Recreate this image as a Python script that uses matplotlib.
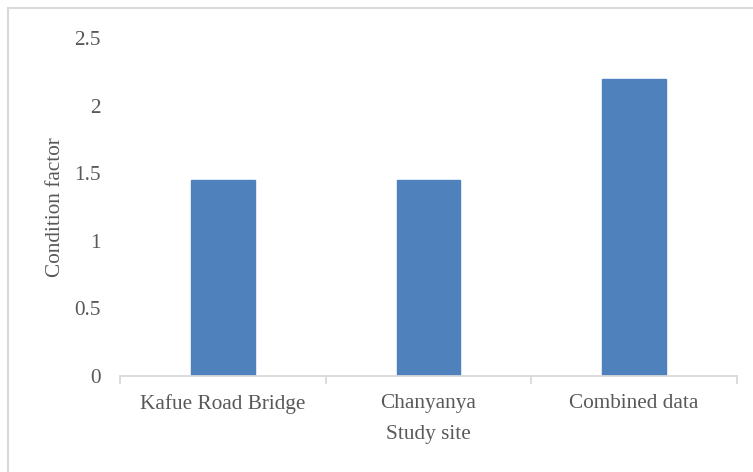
import matplotlib
matplotlib.use("Agg")
import matplotlib.pyplot as plt
from matplotlib.patches import Rectangle

categories = ["Kafue Road Bridge", "Chanyanya", "Combined data"]
values = [1.45, 1.45, 2.2]
yticks = [0, 0.5, 1, 1.5, 2, 2.5]
ytick_labels = ["0", "0.5", "1", "1.5", "2", "2.5"]

plt.rcParams['font.family'] = ['Liberation Serif', 'DejaVu Serif']
txt = '#595959'
grid = '#d9d9d9'
fs = 15.3

fig = plt.figure(figsize=(7.53, 4.72), dpi=100)
fig.patches.append(Rectangle((8/753, -0.1), 1.2, 1 - 8/472 + 0.1, transform=fig.transFigure,
                             fill=False, edgecolor='#d9d9d9', linewidth=1.5))
ax = fig.add_axes([120/753, 1 - 376/472, (737 - 120)/753, (376 - 38)/472])

x = list(range(len(categories)))
ax.bar(x, values, width=0.31, color='#4f81bd', edgecolor='#4f81bd')

ax.set_xlim(-0.5, len(categories) - 0.5)
ax.set_ylim(0, 2.5)
ax.set_yticks(yticks)
ax.set_yticklabels(ytick_labels)
ax.set_xticks(x)
ax.set_xticklabels(categories)
ax.set_xticks([-0.5, 0.5, 1.5, 2.5], minor=True)

for s in ['top', 'right', 'left']:
    ax.spines[s].set_visible(False)
ax.spines['bottom'].set_color(grid)
ax.spines['bottom'].set_linewidth(1.3)

ax.tick_params(axis='y', length=0, pad=14, labelsize=fs, labelcolor=txt)
ax.tick_params(axis='x', which='major', length=0, pad=13, labelsize=fs, labelcolor=txt)
ax.tick_params(axis='x', which='minor', length=6, width=1.3, color=grid)

ax.set_ylabel("Condition factor", fontsize=fs, color=txt, va='center')
ax.yaxis.set_label_coords((55 - 120) / 617, 0.5)
ax.set_xlabel("Study site", fontsize=fs, color=txt, va='center')
ax.xaxis.set_label_coords(0.5, -(435 - 376) / 338)

fig.savefig("out.png", dpi=100)
